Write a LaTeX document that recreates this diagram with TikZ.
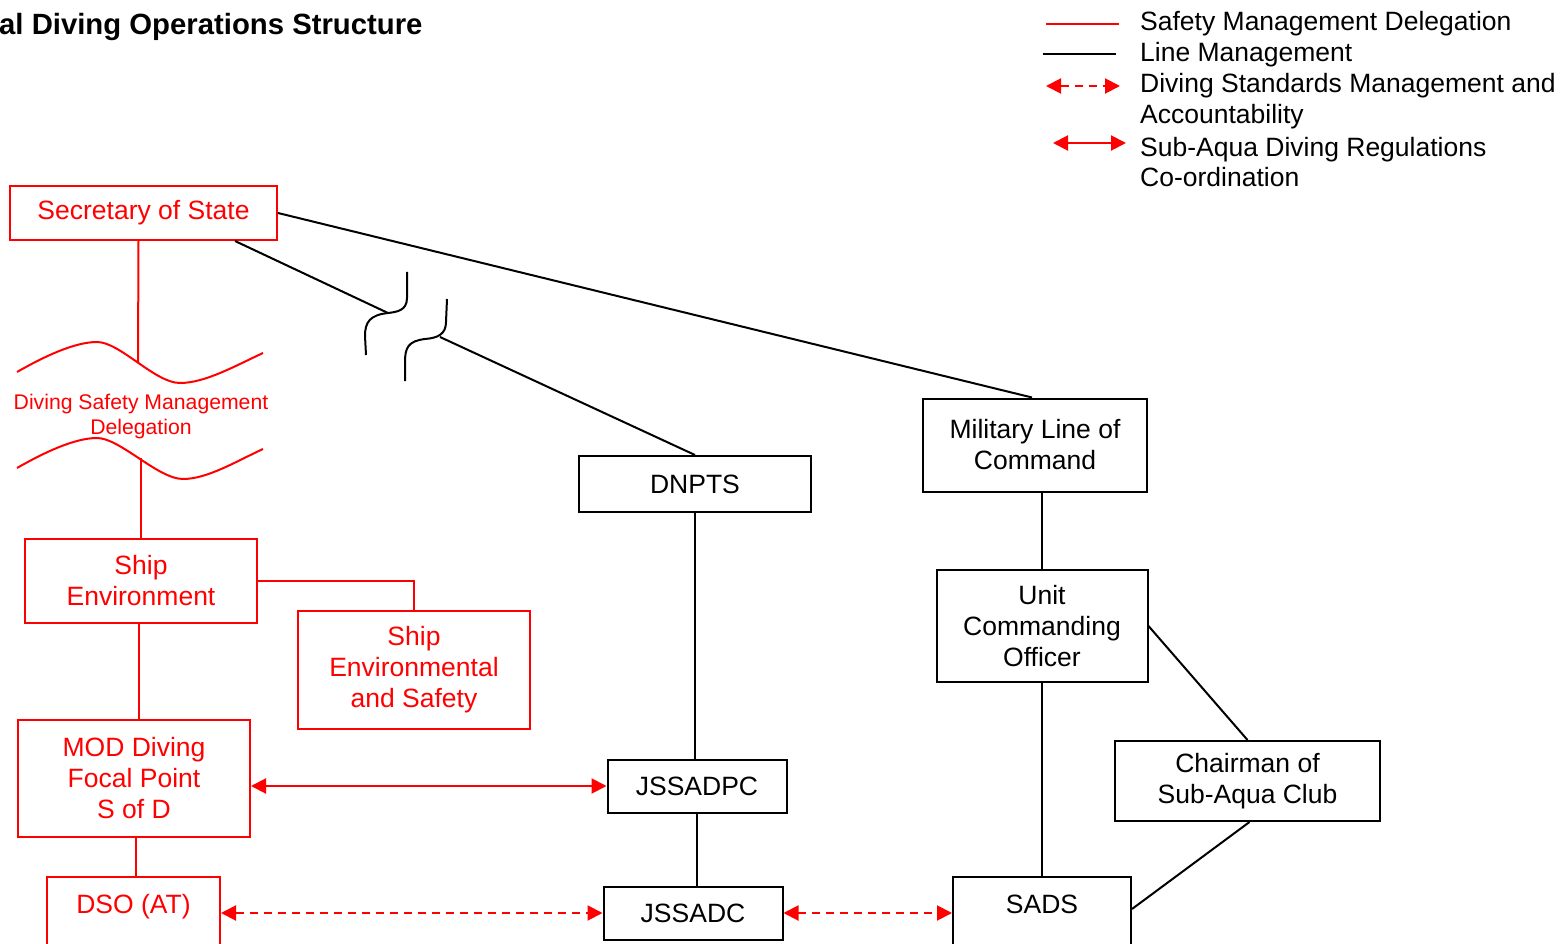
\documentclass[tikz,border=0pt]{standalone}
\usepackage{fontspec}
\setmainfont{Liberation Sans}
\usetikzlibrary{arrows.meta,calc}
\definecolor{mgtRed}{HTML}{FF0000}

\begin{document}
\begin{tikzpicture}[
  x=1pt,y=-1pt,
  box/.style={draw=black,line width=2pt,fill=white,align=center,inner sep=2pt,font=\fontsize{26.5}{31}\selectfont},
  redbox/.style={box,draw=mgtRed,text=mgtRed},
  legend/.style={anchor=west,align=left,inner sep=0pt,font=\fontsize{26.5}{30.6}\selectfont},
  line/.style={draw=black,line width=2pt},
  redline/.style={draw=mgtRed,line width=2pt},
  coord/.style={redline,{Triangle[length=15pt,width=15pt]}-{Triangle[length=15pt,width=15pt]}},
  stdacc/.style={coord,dash pattern=on 8pt off 6pt}
]
\useasboundingbox (0,0) rectangle (1564,944);
\clip (0,0) rectangle (1564,944);

% title and legend
\node[anchor=base west,inner sep=0pt,font=\bfseries\fontsize{29.3}{33}\selectfont] (title) at (-1,35) {al Diving Operations Structure};
\node[legend] (lgsafe) at (1140,24) {Safety Management Delegation};
\node[legend] (lgline) at (1140,55) {Line Management};
\node[legend] (lgstd) at (1140,101) {Diving Standards Management and\\Accountability};
\node[legend] (lgsub) at (1140,162) {Sub-Aqua Diving Regulations\\Co-ordination};
\coordinate (keyA) at (1046,24);  \coordinate (keyAe) at (1119,24);
\coordinate (keyB) at (1043,54);  \coordinate (keyBe) at (1116,54);
\coordinate (keyC) at (1046,86);  \coordinate (keyCe) at (1120,86);
\coordinate (keyD) at (1053,143); \coordinate (keyDe) at (1126,143);
\draw[redline] (keyA) -- (keyAe);
\draw[line] (keyB) -- (keyBe);
\draw[stdacc] (keyC) -- (keyCe);
\draw[coord] (keyD) -- (keyDe);

% safety management side
\node[redbox,minimum width=267pt,minimum height=54pt] (sos) at (143.5,213) {Secretary of State};
\node[redbox,minimum width=232pt,minimum height=84pt] (shipenv) at (141,581) {Ship\\Environment};
\node[redbox,minimum width=232pt,minimum height=118pt] (shipsafe) at (414,670) {Ship\\Environmental\\and Safety};
\node[redbox,minimum width=232pt,minimum height=117pt] (mod) at (134,778) {MOD Diving\\Focal Point\\S of D};
\node[redbox,anchor=north,minimum width=173pt,inner ysep=0pt,text height=36pt,text depth=50pt] (dso) at (133.5,876) {DSO (AT)};

% line management side
\node[box,minimum width=224pt,minimum height=93pt] (mlc) at (1035,445) {Military Line of\\Command};
\node[box,minimum width=232pt,minimum height=56pt] (dnpts) at (695,484) {DNPTS};
\node[box,minimum width=211pt,minimum height=112pt] (uco) at (1042,626) {Unit\\Commanding\\Officer};
\node[box,minimum width=265pt,minimum height=80pt] (chair) at (1247.5,781) {Chairman of\\Sub-Aqua Club};
\node[box,minimum width=179pt,minimum height=53pt] (jssadpc) at (697,786) {JSSADPC};
\node[box,minimum width=179pt,minimum height=53pt] (jssadc) at (693,913) {JSSADC};
\node[box,anchor=north,minimum width=178pt,inner ysep=0pt,text height=36pt,text depth=50pt] (sads) at (1042,876) {SADS};

% delegation waves
\coordinate (wvA) at (138,362);
\coordinate (wvB) at (141,458);
\draw[redline] (17,372) .. controls (45,356) and (75,342) .. (97,342)
  .. controls (120,342) and (155,383) .. (180,383) .. controls (205,383) and (235,366) .. (263,353);
\draw[redline] (17,468) .. controls (45,452) and (75,438) .. (97,438)
  .. controls (120,438) and (158,479) .. (183,479) .. controls (207,479) and (235,462) .. (263,449);
\node[inner sep=0pt,align=center,text=mgtRed,font=\fontsize{21.2}{25}\selectfont] (dsmd) at (141,417) {Diving Safety Management\\Delegation};

% break in the line
\coordinate (brkA) at (388,313);
\coordinate (brkB) at (440,337);
\draw[line] (407,272) -- (407,298) .. controls (407,311) and (396,312) .. (brkA)
  .. controls (370,315) and (365,322) .. (365,336) -- (366,355);
\draw[line] (447,299) -- (446,322) .. controls (446,334) and (438,338) .. (425,339)
  .. controls (408,341) and (405,348) .. (405,362) -- (405,381);

% red connectors
\draw[redline] ([xshift=-5pt]sos.south) -- (wvA);
\draw[redline] (wvB) -- (wvB |- shipenv.north);
\draw[redline] (shipenv.east) -| (shipsafe.north);
\draw[redline] ([xshift=-2pt]shipenv.south) -- ([xshift=-2pt]shipenv.south |- mod.north);
\draw[redline] ([xshift=2pt]mod.south) -- ([xshift=2pt]mod.south |- dso.north);

% black connectors
\draw[line] (sos.east) -- ([xshift=-3pt]mlc.north);
\draw[line] ([xshift=91.5pt]sos.south) -- (brkA);
\draw[line] (brkB) -- (dnpts.north);
\draw[line] (dnpts.south) -- (dnpts.south |- jssadpc.north);
\draw[line] (jssadpc.south) -- (jssadpc.south |- jssadc.north);
\draw[line] (uco.north |- mlc.south) -- (uco.north);
\draw[line] (uco.south) -- (uco.south |- sads.north);
\draw[line] (uco.east) -- (chair.north);
\draw[line] ([xshift=2pt]chair.south) -- ([yshift=11pt]sads.east);

% coordination arrows
\draw[coord] (mod.east |- jssadpc.west) -- (jssadpc.west);
\draw[stdacc] (dso.east |- jssadc.west) -- (jssadc.west);
\draw[stdacc] (jssadc.east) -- (sads.west |- jssadc.east);
\end{tikzpicture}
\end{document}
